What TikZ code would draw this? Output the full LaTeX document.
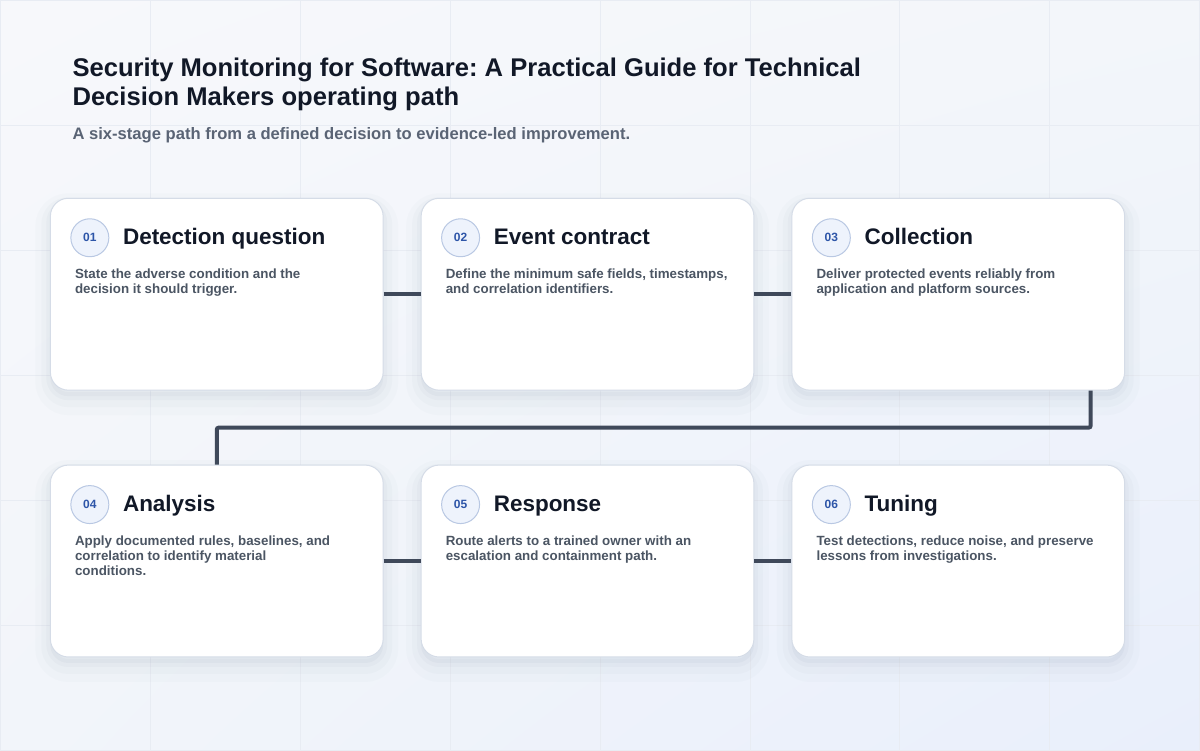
\documentclass[tikz,border=0pt]{standalone}
\usepackage{fontspec}
\setmainfont{Liberation Sans}
\usetikzlibrary{positioning,shadings}
\frenchspacing

\definecolor{bgtl}{HTML}{F7F8FB}
\definecolor{bgtr}{HTML}{F3F6FA}
\definecolor{bgbl}{HTML}{F2F5FA}
\definecolor{bgbr}{HTML}{E9EFFB}
\definecolor{gridcol}{HTML}{E8ECF3}
\definecolor{cardline}{HTML}{D5DCE7}
\definecolor{shadowcol}{HTML}{6A7A96}
\definecolor{ink}{HTML}{111827}
\definecolor{slate}{HTML}{4B5563}
\definecolor{subtle}{HTML}{5A6475}
\definecolor{badgefill}{HTML}{EEF3FC}
\definecolor{badgeline}{HTML}{B9C8E3}
\definecolor{badgetext}{HTML}{2D55A8}
\definecolor{linkcol}{HTML}{3F495A}

\begin{document}
\begin{tikzpicture}[x=1pt,y=-1pt,
    card/.style={draw=cardline, line width=1pt, fill=white, rounded corners=18pt,
        minimum width=333pt, minimum height=192pt, inner sep=0pt,
        preaction={draw=shadowcol, draw opacity=0.025, line width=30pt,
            transform canvas={yshift=-10pt}},
        preaction={draw=shadowcol, draw opacity=0.03, line width=18pt,
            transform canvas={yshift=-8pt}},
        preaction={fill=shadowcol, fill opacity=0.05, draw=shadowcol,
            draw opacity=0.04, line width=8pt, transform canvas={yshift=-6pt}}},
    badge/.style={circle, draw=badgeline, fill=badgefill, line width=1pt,
        minimum size=38pt, inner sep=0pt, text=badgetext,
        font=\fontsize{12}{14}\selectfont\bfseries},
    heading/.style={anchor=base west, inner sep=0pt, text=ink,
        font=\fontsize{22.5}{26}\selectfont\bfseries},
    blurb/.style={anchor=north west, inner sep=0pt, align=left, text=slate,
        font=\fontsize{13.35}{15}\selectfont\bfseries},
    link/.style={draw=linkcol, line width=4pt}]

% page and faint grid
\shade[upper left=bgtl, upper right=bgtr, lower left=bgbl, lower right=bgbr]
    (0,0) rectangle (1200,750);
\draw[gridcol, line width=0.8pt, xstep=150pt, ystep=125pt] (0,0) grid (1200,750);
\useasboundingbox (0,0) rectangle (1200,750);

% title block
\node[anchor=base west, inner sep=0pt, align=left, text=ink,
      font=\fontsize{25.6}{29}\selectfont\bfseries] (title) at (72,105)
    {Security Monitoring for Software: A Practical Guide for Technical\\
     Decision Makers operating path};
\node[anchor=base west, inner sep=0pt, text=subtle,
      font=\fontsize{16.6}{19}\selectfont\bfseries] (subtitle) at (72,139)
    {A six-stage path from a defined decision to evidence-led improvement.};

% cards
\node[card] (c1) at (216.5,294) {};
\node[card] (c2) at (587.5,294) {};
\node[card] (c3) at (958.5,294) {};
\node[card] (c4) at (216.5,561) {};
\node[card] (c5) at (587.5,561) {};
\node[card] (c6) at (958.5,561) {};

% connectors
\coordinate (drop) at ([xshift=132.5pt]c3.south);
\draw[link] (c1.east) -- (c2.west);
\draw[link] (c2.east) -- (c3.west);
\draw[link, rounded corners=2pt] (drop) -- ++(0,37) -| (c4.north);
\draw[link] (c4.east) -- (c5.west);
\draw[link] (c5.east) -- (c6.west);

% stage 01
\node[badge] (n1) at ([shift={(40,40)}]c1.north west) {01};
\node[heading] (h1) at ([shift={(73,47)}]c1.north west) {Detection question};
\node[blurb] (t1) at ([shift={(25,71)}]c1.north west)
    {State the adverse condition and the\\decision it should trigger.};

% stage 02
\node[badge] (n2) at ([shift={(40,40)}]c2.north west) {02};
\node[heading] (h2) at ([shift={(73,47)}]c2.north west) {Event contract};
\node[blurb] (t2) at ([shift={(25,71)}]c2.north west)
    {Define the minimum safe fields, timestamps,\\and correlation identifiers.};

% stage 03
\node[badge] (n3) at ([shift={(40,40)}]c3.north west) {03};
\node[heading] (h3) at ([shift={(73,47)}]c3.north west) {Collection};
\node[blurb] (t3) at ([shift={(25,71)}]c3.north west)
    {Deliver protected events reliably from\\application and platform sources.};

% stage 04
\node[badge] (n4) at ([shift={(40,40)}]c4.north west) {04};
\node[heading] (h4) at ([shift={(73,47)}]c4.north west) {Analysis};
\node[blurb] (t4) at ([shift={(25,71)}]c4.north west)
    {Apply documented rules, baselines, and\\correlation to identify material\\conditions.};

% stage 05
\node[badge] (n5) at ([shift={(40,40)}]c5.north west) {05};
\node[heading] (h5) at ([shift={(73,47)}]c5.north west) {Response};
\node[blurb] (t5) at ([shift={(25,71)}]c5.north west)
    {Route alerts to a trained owner with an\\escalation and containment path.};

% stage 06
\node[badge] (n6) at ([shift={(40,40)}]c6.north west) {06};
\node[heading] (h6) at ([shift={(73,47)}]c6.north west) {Tuning};
\node[blurb] (t6) at ([shift={(25,71)}]c6.north west)
    {Test detections, reduce noise, and preserve\\lessons from investigations.};

\end{tikzpicture}
\end{document}
